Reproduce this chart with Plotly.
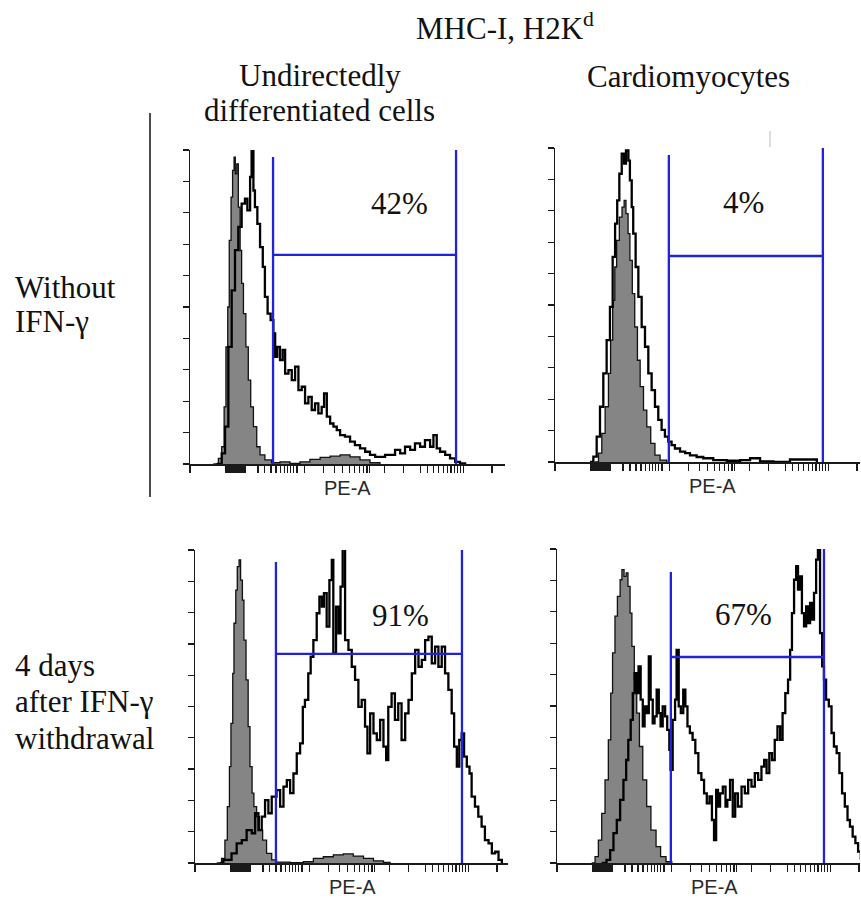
import plotly.graph_objects as go

# ---------------- data (channel 0-1000 on the PE-A axis, counts as % of axis height) -------------
# Panel 1: undirectedly differentiated cells, without IFN-gamma
p1_open_x = [88, 105, 116, 127, 138, 149, 160, 171, 182, 190, 199, 204, 210, 215, 223, 232, 241, 248,
             257, 267, 276, 282, 289, 298, 307, 315, 326, 337, 348, 359, 370, 381, 392, 403, 414, 425,
             436, 444, 453, 464, 475, 486, 497, 513, 530, 546, 563, 580, 596, 613, 629, 646, 662, 679,
             696, 712, 729, 745, 762, 778, 795, 806, 817, 828, 845, 861, 878, 894, 911]
p1_open_y = [0, 3.4, 11.9, 37.3, 55.3, 68.1, 75.5, 82.9, 84.5, 80.8, 91.4, 101, 87.1, 81.8, 76.5, 69.1,
             62.8, 53.2, 47.9, 45.8, 41.6, 34.1, 37.3, 33.1, 36.3, 28.8, 29.9, 26.7, 31.0, 23.5, 24.6,
             19.3, 21.4, 17.2, 19.3, 16.1, 18.2, 22.5, 15.1, 12.9, 11.9, 10.8, 9.2, 8.7, 7.1, 6.0, 5.0,
             3.9, 2.9, 2.3, 2.3, 2.9, 2.9, 4.5, 3.4, 5.5, 4.5, 6.6, 5.5, 7.6, 5.5, 9.2, 5.0, 3.9, 2.9,
             1.8, 0.7, 0.2, 0]
p1_ctrl_x = [77, 94, 105, 113, 119, 125, 130, 136, 141, 146, 150, 155, 160, 166, 171, 177, 185, 193,
             201, 210, 221, 232, 248, 270, 298, 331, 364, 397, 431, 464, 497, 530, 563, 596, 629]
p1_ctrl_y = [0, 1.8, 5.5, 18.2, 37.3, 50, 71.2, 85, 93.5, 97.7, 92.4, 95.6, 81.8, 68, 57.5, 47.9, 37.3,
             26.7, 18.2, 11.9, 5.5, 2.9, 1.3, 0.4, 0.7, 0.2, 0.7, 1.5, 2.1, 2.5, 2.9, 2.3, 1.3, 0.4, 0]

# Panel 2: cardiomyocytes, without IFN-gamma
p2_open_x = [116, 127, 138, 149, 160, 171, 182, 191, 199, 206, 213, 221, 229, 235, 243, 248, 254, 259,
             267, 276, 287, 298, 309, 320, 331, 342, 353, 364, 375, 386, 397, 414, 431, 447, 469, 491,
             524, 569, 613, 646, 679, 723, 778, 822, 867]
p2_open_y = [0, 1.7, 8.1, 17.6, 28.2, 38.8, 49.4, 65.3, 75.9, 83.3, 91.8, 98.2, 95, 99.2, 96, 89.7,
             81.2, 72.7, 62.1, 52.6, 43, 36.7, 28.2, 22.9, 17.6, 13.4, 10.2, 8.1, 6.5, 5.4, 4.3, 3.3,
             2.8, 2.1, 1.6, 1.2, 0.6, 0.4, 0.6, 1.2, 0.2, 0, 0.8, 0.8, 0]
p2_ctrl_x = [132, 144, 155, 166, 177, 184, 191, 198, 204, 213, 222, 229, 235, 242, 248, 256, 264, 273,
             282, 293, 304, 317, 331, 348, 370]
p2_ctrl_y = [0, 2.8, 9.1, 17.6, 28.2, 38.8, 51.5, 62.1, 70.6, 78, 81.2, 83.3, 79.1, 72.7, 64.2, 53.6,
             43, 32.4, 24, 16.5, 11.2, 5.9, 2.2, 0.6, 0]

# Panel 3: undirectedly differentiated cells, 4 days after IFN-gamma withdrawal
p3_open_x = [83, 94, 121, 138, 155, 171, 188, 199, 210, 221, 232, 243, 254, 270, 282, 293, 304, 315,
             326, 337, 348, 357, 364, 375, 383, 392, 403, 412, 420, 427, 436, 445, 453, 458, 467, 475,
             482, 489, 497, 508, 519, 530, 541, 552, 563, 571, 580, 591, 602, 613, 624, 633, 640, 651,
             662, 673, 684, 696, 707, 718, 729, 740, 751, 762, 773, 784, 795, 806, 817, 828, 839, 850,
             858, 867, 875, 883, 891, 900, 909, 916, 927, 938, 949, 960, 972, 983, 994, 1005, 1016]
p3_open_y = [0, 1.0, 3.1, 6.3, 7.3, 10.5, 9.5, 15.9, 10.5, 14.8, 20.1, 15.9, 21.2, 23.3, 18, 24.4, 26.5,
             22.3, 28.6, 35, 38.2, 49.9, 52.1, 60.6, 65.9, 71.2, 79.8, 85.1, 81.9, 86.2, 75.5, 90.4,
             96.8, 67, 81.9, 73.4, 88.3, 101, 71.2, 68.1, 62.7, 58.5, 49.9, 52.1, 43.6, 35, 47.8, 41.4,
             39.3, 45.7, 37.2, 32.9, 49.9, 54.2, 45.7, 51, 39.3, 47.8, 52.1, 60.6, 68.1, 62.7, 64.9,
             71.2, 72.3, 63.8, 69.1, 62.7, 69.1, 60.6, 55.3, 47.8, 37.2, 30.8, 39.3, 41.4, 34, 30.8,
             28.6, 21.2, 18, 14.8, 11.6, 7.3, 6.3, 3.1, 3.6, 1, 0]
p3_ctrl_x = [72, 88, 99, 107, 114, 119, 125, 129, 135, 140, 146, 151, 157, 162, 169, 176, 182, 189,
             195, 204, 213, 224, 237, 254, 270, 315, 359, 392, 425, 458, 491, 524, 558, 591, 624, 646]
p3_ctrl_y = [0, 1.5, 7.3, 18, 30.8, 44.6, 60.6, 76.6, 87.2, 94.7, 96.8, 90.4, 84, 71.2, 58.5, 43.6,
             30.8, 22.3, 18, 14.8, 10.5, 7.3, 3.1, 1, 0.3, 0.1, 0.4, 1.5, 2, 2.6, 2.9, 2.2, 1.5, 0.7,
             0.2, 0]

# Panel 4: cardiomyocytes, 4 days after IFN-gamma withdrawal
p4_open_x = [148, 164, 176, 187, 198, 209, 220, 229, 236, 244, 251, 257, 264, 270, 277, 284, 290, 297,
             304, 310, 317, 323, 330, 337, 343, 350, 358, 365, 372, 376, 383, 391, 396, 403, 410, 418,
             425, 432, 440, 449, 458, 468, 478, 487, 496, 505, 513, 520, 527, 533, 540, 549, 558, 564,
             573, 582, 590, 599, 611, 622, 633, 644, 655, 666, 677, 686, 694, 703, 712, 721, 730, 739,
             747, 756, 765, 772, 778, 785, 792, 798, 805, 811, 818, 825, 831, 838, 845, 851, 858, 864,
             871, 878, 884, 891, 900, 909, 917, 926, 935, 944, 953, 962, 970, 979, 988, 997, 1006]
p4_open_y = [0, 1, 4.1, 9.5, 13.7, 20.1, 26.5, 32.8, 39.2, 45.6, 54.1, 60.5, 54.1, 62.6, 52, 43.5,
             49.9, 47.7, 65.8, 52, 44.5, 46.7, 55.2, 47.7, 43.5, 49.9, 46.7, 42.4, 36, 29.7, 45.6, 52,
             67.9, 49.9, 47.7, 55.2, 49.9, 43.5, 41.4, 39.2, 35, 28.6, 26.5, 22.2, 19, 21.2, 13.7, 7.3,
             23.3, 18, 22.2, 24.3, 18, 20.1, 26.5, 14.8, 22.2, 18, 24.3, 22.2, 26.5, 24.3, 28.6, 26.5,
             30.7, 32.8, 28.6, 35, 32.8, 39.2, 43.5, 39.2, 47.7, 54.1, 58.4, 67.9, 79.6, 90.2, 94.5,
             87.1, 91.3, 79.6, 75.4, 81.7, 76.4, 82.8, 77.5, 86, 96.6, 101, 73.2, 62.6, 58.4, 52, 49.9,
             41.4, 37.1, 35, 28.6, 22.2, 18, 13.7, 11.6, 8.4, 6.3, 3.6, 1]
p4_ctrl_x = [115, 126, 137, 148, 159, 170, 178, 184, 192, 200, 209, 215, 222, 229, 235, 242, 248, 256,
             264, 273, 284, 297, 311, 328, 343, 361, 380]
p4_ctrl_y = [0, 2, 7.3, 15.8, 26.5, 39.2, 54.1, 66.9, 78.6, 84.9, 90.2, 93.4, 91.3, 92.4, 88.1, 79.6,
             69, 58.4, 47.7, 37.1, 26.5, 18, 10.5, 5.2, 2, 0.4, 0]

# Gates (channel positions, gate bar height, top of each gate edge) and gated percentages
gate_left = [275, 377, 268, 377]
gate_right = [881, 887, 884, 884]
gate_level = [66.6, 65.6, 66.8, 65.6]
gate_left_top = [97.8, 97.8, 96.2, 92.7]
gate_right_top = [100, 100, 100, 100]
gate_pct = ["42%", "4%", "91%", "67%"]
pct_x = [695, 623, 679, 616]
pct_y = [83, 82.5, 79, 79]

# Axis ticks (PE-A, log display) and count ticks
x_ticks = [0, 118, 121, 124, 127, 130, 133, 136, 139, 142, 145, 148, 151, 154, 157, 160, 163, 166,
           169, 172, 175, 178, 181, 184,
           225, 248, 268, 285, 300, 313, 324, 334, 344, 354, 380,
           443, 478, 505, 527, 545, 561, 574, 586, 595, 644,
           708, 762, 786, 806, 823, 839, 853, 864, 875, 886, 896, 906, 1000]
y_ticks = [0, 10, 20, 30, 40, 50, 60, 70, 80, 90, 100]

column_titles = [["Undirectedly", "differentiated cells"], ["Cardiomyocytes"]]
row_titles = [["Without", "IFN-γ"], ["4 days", "after IFN-γ", "withdrawal"]]
main_title = "MHC-I, H2K<sup>d</sup>"
axis_label = "PE-A"

# ---------------- layout geometry (pixels) ----------------
W, H = 861, 899
PX_PER_CH = 0.302
panels = [
    dict(open=(p1_open_x, p1_open_y), ctrl=(p1_ctrl_x, p1_ctrl_y), x0=190, x1=505, yb=464, yt=150),
    dict(open=(p2_open_x, p2_open_y), ctrl=(p2_ctrl_x, p2_ctrl_y), x0=555, x1=860, yb=462, yt=148),
    dict(open=(p3_open_x, p3_open_y), ctrl=(p3_ctrl_x, p3_ctrl_y), x0=195, x1=508, yb=863, yt=550),
    dict(open=(p4_open_x, p4_open_y), ctrl=(p4_ctrl_x, p4_ctrl_y), x0=557, x1=860, yb=863, yt=549),
]

SERIF = "Liberation Serif"
SANS = "Liberation Sans"
BLUE = "#2222d8"

fig = go.Figure()
layout_axes = {}
annotations = []


def ptext(text, px, py, size=31, xanchor="center", family=SERIF, color="#111111"):
    annotations.append(dict(x=px / W, y=1 - py / H, xref="paper", yref="paper", text=text,
                            showarrow=False, xanchor=xanchor, yanchor="middle",
                            font=dict(family=family, size=size, color=color)))


for i, p in enumerate(panels):
    n = "" if i == 0 else str(i + 1)
    xa, ya = "x" + n, "y" + n
    # control (filled grey)
    fig.add_trace(go.Scatter(x=p["ctrl"][0], y=p["ctrl"][1], xaxis=xa, yaxis=ya, mode="lines",
                             line=dict(color="#111111", width=1.3, shape="hv"), fill="tozeroy",
                             fillcolor="#858585", showlegend=False, hoverinfo="skip"))
    # stained (open)
    fig.add_trace(go.Scatter(x=p["open"][0], y=p["open"][1], xaxis=xa, yaxis=ya, mode="lines",
                             line=dict(color="#000000", width=2.3, shape="hv"),
                             showlegend=False, hoverinfo="skip"))
    # gate
    gx = [gate_left[i], gate_left[i], None, gate_right[i], gate_right[i], None, gate_left[i], gate_right[i]]
    gy = [0, gate_left_top[i], None, 0, gate_right_top[i], None, gate_level[i], gate_level[i]]
    fig.add_trace(go.Scatter(x=gx, y=gy, xaxis=xa, yaxis=ya, mode="lines",
                             line=dict(color=BLUE, width=2.3), showlegend=False, hoverinfo="skip",
                             cliponaxis=False))
    xr = (p["x1"] - p["x0"]) / PX_PER_CH
    layout_axes["xaxis" + n] = dict(
        domain=[p["x0"] / W, p["x1"] / W], range=[0, xr], anchor=ya,
        showgrid=False, zeroline=False, showline=True, linecolor="#1a1a1a", linewidth=1.5,
        ticks="outside", ticklen=7, tickwidth=1.2, tickcolor="#1a1a1a",
        tickmode="array", tickvals=x_ticks, showticklabels=False, fixedrange=True)
    layout_axes["yaxis" + n] = dict(
        domain=[1 - p["yb"] / H, 1 - p["yt"] / H], range=[0, 100], anchor=xa,
        showgrid=False, zeroline=False, showline=True, linecolor="#1a1a1a", linewidth=1.5,
        ticks="outside", ticklen=6, tickwidth=1.2, tickcolor="#1a1a1a",
        tickmode="array", tickvals=y_ticks, showticklabels=False, fixedrange=True)
    annotations.append(dict(x=pct_x[i], y=pct_y[i], xref=xa, yref=ya, text=gate_pct[i],
                            showarrow=False, font=dict(family=SERIF, size=31, color="#111111")))
    ptext(axis_label, p["x0"] + 520 * PX_PER_CH, p["yb"] + 24, size=20, family=SANS, color="#2a2a2a")

ptext(main_title, 505, 26)
ptext(column_titles[0][0], 320, 75)
ptext(column_titles[0][1], 319, 110)
ptext(column_titles[1][0], 688, 77)
for k, line in enumerate(row_titles[0]):
    ptext(line, 13, 287 + 35 * k, xanchor="left")
for k, line in enumerate(row_titles[1]):
    ptext(line, 13, 665 + 36.5 * k, xanchor="left")

shapes = [
    dict(type="line", xref="paper", yref="paper", x0=150 / W, x1=150 / W, y0=1 - 497 / H, y1=1 - 113 / H,
         line=dict(color="#111111", width=1.5)),
    dict(type="line", xref="paper", yref="paper", x0=770 / W, x1=770 / W, y0=1 - 147 / H, y1=1 - 131 / H,
         line=dict(color="#bbbbbb", width=1)),
]

fig.update_layout(width=W, height=H, autosize=False, margin=dict(l=0, r=0, t=0, b=0),
                  paper_bgcolor="white", plot_bgcolor="white", annotations=annotations,
                  shapes=shapes, **layout_axes)

fig.write_html("out.html", config={"displayModeBar": False, "staticPlot": True},
               post_script="document.body.style.margin='0';document.body.style.overflow='hidden';")
